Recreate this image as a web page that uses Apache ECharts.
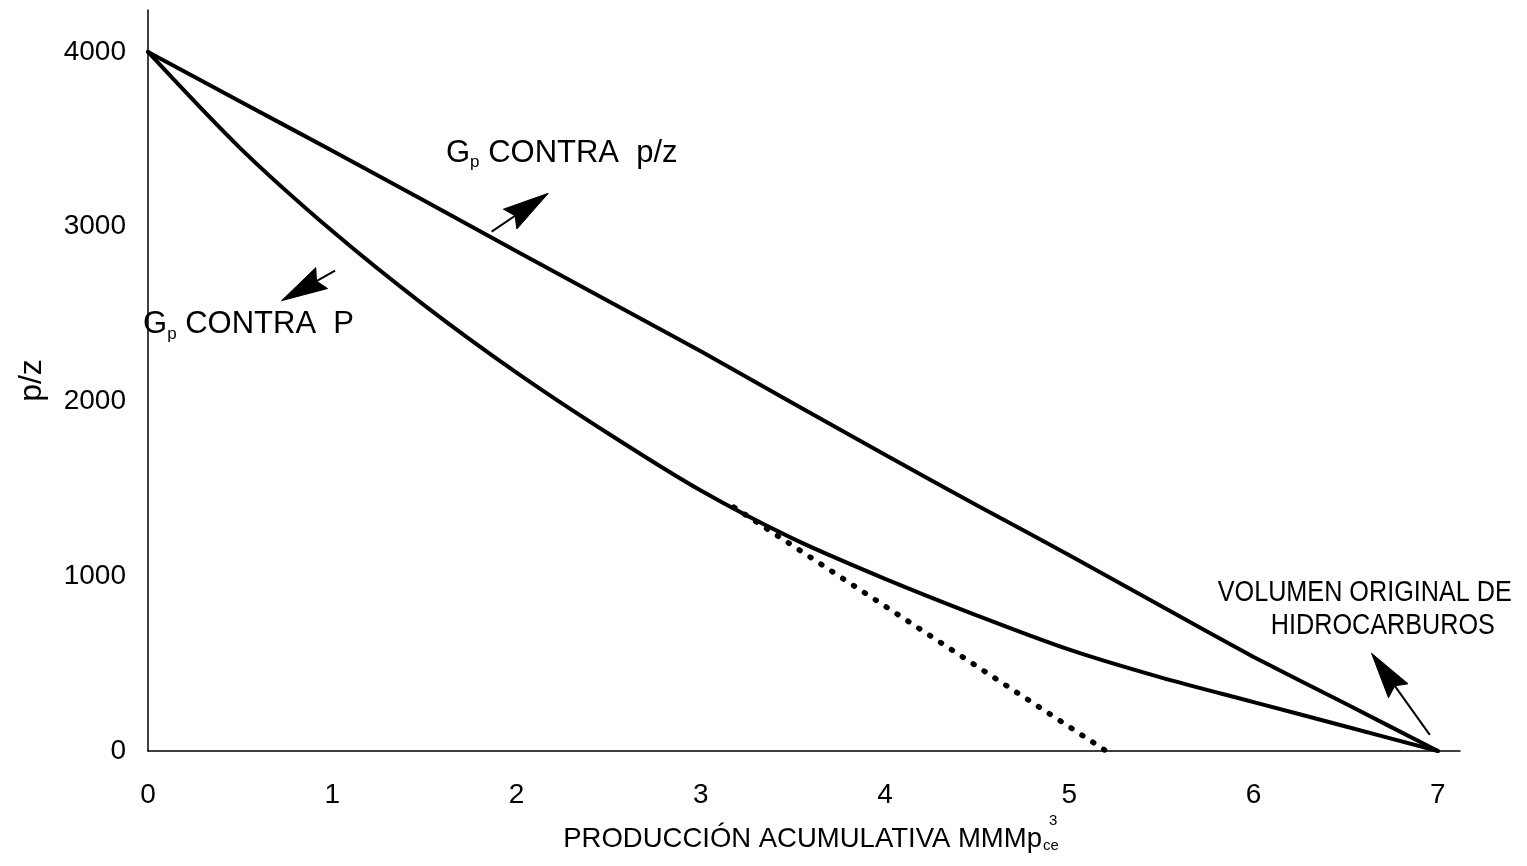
<!DOCTYPE html>
<html>
<head>
<meta charset="utf-8">
<script src="https://cdn.jsdelivr.net/npm/echarts@6/dist/echarts.min.js"></script>
<style>
  html, body { margin: 0; padding: 0; background: #fff; }
  #chart { width: 1527px; height: 866px; }
</style>
</head>
<body>
<div id="chart"></div>
<script>
const FONT = '"Liberation Sans", Arial, Helvetica, sans-serif';

// Gp vs p/z (cumulative production, MMMp3ce)
const gpPz = [0, 0.5, 1, 1.5, 2, 2.5, 3, 3.5, 4, 4.5, 5, 5.5, 6, 6.5, 7];
const pz   = [4000, 3717, 3434, 3148, 2860, 2574, 2287, 1990, 1695, 1405, 1120, 828, 538, 270, 0];

// Gp vs P
const gpP = [0, 0.5, 1, 1.5, 2, 2.5, 3, 3.5, 4, 4.5, 5, 5.5, 6, 6.5, 7];
const pP  = [4000, 3450, 2975, 2550, 2165, 1815, 1490, 1215, 985, 775, 580, 420, 280, 140, 0];

// dotted extrapolation of the P curve down to the axis
const tangentGp = [3.18, 5.2];
const tangentP  = [1395, 0];

// annotation arrows: tail -> tip, in data units
const arrowTail = [[1.865, 2972], [1.015, 2749], [6.956, 92]];
const arrowTip  = [[2.172, 3191], [0.725, 2577], [6.640, 559]];

// annotation texts and their anchors
const noteText  = ['{g|G}{s|p}{t| CONTRA  p/z}', '{g|G}{s|p}{t| CONTRA  P}', 'VOLUMEN ORIGINAL DE', 'HIDROCARBUROS'];
const noteAt    = [[1.617, 3422], [-0.027, 2438], [7.401, 905], [7.309, 716]];
const noteAlign = ['left', 'left', 'right', 'right'];

const xMax = 7.12;
const yMax = 4240;

const pairs = (xs, ys) => xs.map((x, i) => [x, ys[i]]);

const chart = echarts.init(document.getElementById('chart'), null, { renderer: 'canvas' });

const gpRich = {
  g: { fontSize: 31, fontFamily: FONT, color: '#000', lineHeight: 34, verticalAlign: 'middle' },
  s: { fontSize: 17, fontFamily: FONT, color: '#000', lineHeight: 17, padding: [18, 0, 0, 0], verticalAlign: 'middle' },
  t: { fontSize: 31, fontFamily: FONT, color: '#000', lineHeight: 34, verticalAlign: 'middle' }
};

chart.setOption({
  backgroundColor: '#fff',
  animation: false,
  grid: { left: 148, right: 67, top: 10, bottom: 115 },
  xAxis: {
    type: 'value',
    min: 0,
    max: xMax,
    interval: 1,
    splitLine: { show: false },
    axisTick: { show: false },
    axisLine: { show: true, onZero: false, lineStyle: { color: '#000', width: 1.5 } },
    axisLabel: {
      showMaxLabel: false, margin: 30, fontSize: 28, fontFamily: FONT, color: '#000',
      formatter: v => String(v)
    },
    name: 'PRODUCCIÓN ACUMULATIVA MMMp{ce|ce}',
    nameLocation: 'middle',
    nameGap: 74,
    nameTextStyle: {
      fontSize: 27.5, fontFamily: FONT, color: '#000',
      padding: [0, 0, 0, 14],
      rich: {
        ce: { fontSize: 15, fontFamily: FONT, color: '#000', lineHeight: 15, padding: [14, 0, 0, 1], verticalAlign: 'middle' }
      }
    }
  },
  yAxis: {
    type: 'value',
    min: 0,
    max: yMax,
    interval: 1000,
    splitLine: { show: false },
    axisTick: { show: false },
    axisLine: { show: true, onZero: false, lineStyle: { color: '#000', width: 1.5 } },
    axisLabel: {
      showMaxLabel: false, margin: 22, fontSize: 28, fontFamily: FONT, color: '#000',
      formatter: v => String(v)
    },
    name: 'p/z',
    nameLocation: 'middle',
    nameRotate: 90,
    nameGap: 100,
    nameTextStyle: { fontSize: 32, fontFamily: FONT, color: '#000' }
  },
  // superscript of the unit in the axis title
  graphic: [
    { type: 'text', left: 1049, top: 813, style: { text: '3', fontSize: 15, fontFamily: FONT, fill: '#000' } }
  ],
  series: [
    {
      name: 'Gp contra p/z',
      type: 'line',
      data: pairs(gpPz, pz),
      symbol: 'none',
      smooth: 0.15,
      lineStyle: { color: '#000', width: 4, cap: 'round', join: 'round' },
      z: 3
    },
    {
      name: 'Gp contra P',
      type: 'line',
      data: pairs(gpP, pP),
      symbol: 'none',
      smooth: 0.3,
      lineStyle: { color: '#000', width: 4, cap: 'round', join: 'round' },
      z: 3
    },
    {
      name: 'extrapolación',
      type: 'line',
      data: pairs(tangentGp, tangentP),
      symbol: 'none',
      lineStyle: { color: '#000', width: 5.5, type: [1, 12], cap: 'round' },
      z: 2
    },
    {
      name: 'flechas',
      type: 'custom',
      clip: false,
      data: arrowTail.map((t, i) => [t[0], t[1], arrowTip[i][0], arrowTip[i][1]]),
      encode: { x: [0, 2], y: [1, 3] },
      renderItem: function (params, api) {
        const a = api.coord([api.value(0), api.value(1)]);
        const b = api.coord([api.value(2), api.value(3)]);
        const dx = b[0] - a[0], dy = b[1] - a[1];
        const len = Math.sqrt(dx * dx + dy * dy);
        const ux = dx / len, uy = dy / len;
        const px = -uy, py = ux;
        const headLen = 46, half = 12, notch = 6;
        const base = [b[0] - ux * headLen, b[1] - uy * headLen];
        const l = [base[0] + px * half, base[1] + py * half];
        const r = [base[0] - px * half, base[1] - py * half];
        const n = [base[0] + ux * notch, base[1] + uy * notch];
        return {
          type: 'group',
          children: [
            { type: 'line', shape: { x1: a[0], y1: a[1], x2: n[0], y2: n[1] },
              style: { stroke: '#000', lineWidth: 2 } },
            { type: 'polygon', shape: { points: [b, l, n, r] },
              style: { fill: '#000', stroke: '#000', lineWidth: 1 } }
          ]
        };
      },
      z: 4
    },
    {
      name: 'notas',
      type: 'custom',
      clip: false,
      data: noteAt.map((p, i) => [p[0], p[1], i]),
      encode: { x: 0, y: 1 },
      renderItem: function (params, api) {
        const i = api.value(2);
        const pt = api.coord([api.value(0), api.value(1)]);
        const narrow = i >= 2;
        return {
          type: 'text',
          x: pt[0],
          y: pt[1],
          originX: 0,
          originY: 0,
          scaleX: narrow ? 0.84 : 1,
          style: {
            text: noteText[i],
            fill: '#000',
            fontSize: narrow ? 30 : 31,
            fontFamily: FONT,
            align: noteAlign[i],
            verticalAlign: 'middle',
            rich: narrow ? undefined : gpRich
          }
        };
      },
      z: 5
    }
  ]
});
</script>
</body>
</html>
